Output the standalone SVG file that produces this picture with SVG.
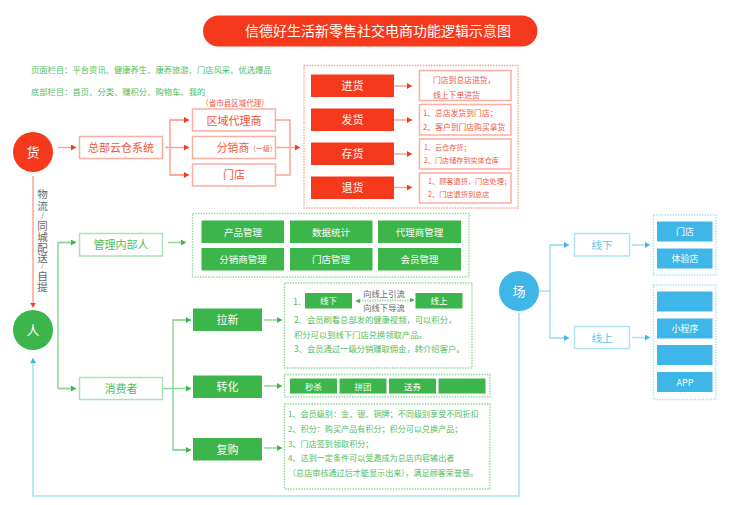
<svg xmlns="http://www.w3.org/2000/svg" width="741" height="505" viewBox="0 0 741 505">
<style>
text{font-family:"Noto Sans CJK SC","Noto Sans",sans-serif;}
.c{text-anchor:middle}
.w{fill:#fff}
.r{fill:#f5391c}
.g{fill:#3cb54a}
.b{fill:#3eb6e8}
.ro{fill:#fff;stroke:#fbaea2;stroke-width:1.5}
.go{fill:#fff;stroke:#aee2b5;stroke-width:1.5}
.bo{fill:#fff;stroke:#aee2f6;stroke-width:1.5}
.rd{fill:none;stroke:#fba496;stroke-width:1.4;stroke-dasharray:1.5 1.2}
.gd{fill:none;stroke:#93da9c;stroke-width:1.4;stroke-dasharray:1.5 1.2}
.bd{fill:none;stroke:#a9e0f6;stroke-width:1.4;stroke-dasharray:1.5 1.2}
.rt{fill:#f0553c}
.gt{fill:#50bd5d}
.bt{fill:#5cc3ea}
.rl{fill:none;stroke:#fba496;stroke-width:1.5}
.gl{fill:none;stroke:#8ed796;stroke-width:1.5}
.bl{fill:none;stroke:#a9e0f6;stroke-width:1.6}
.ra{marker-end:url(#mr)}
.ga{marker-end:url(#mg)}
.ba{marker-end:url(#mb)}
</style>
<defs>
<marker id="mr" markerUnits="userSpaceOnUse" markerWidth="6" markerHeight="7" refX="5" refY="3" orient="auto"><path d="M0 0L5 3L0 6Z" fill="#f5391c"/></marker>
<marker id="mg" markerUnits="userSpaceOnUse" markerWidth="6" markerHeight="7" refX="5" refY="3" orient="auto"><path d="M0 0L5 3L0 6Z" fill="#3cb54a"/></marker>
<marker id="mb" markerUnits="userSpaceOnUse" markerWidth="6" markerHeight="7" refX="5" refY="3" orient="auto"><path d="M0 0L5 3L0 6Z" fill="#3eb6e8"/></marker>
</defs>

<rect width="741" height="505" fill="#fff"/>

<g id="connectors">
<path class="rl ra" d="M58 147.500H76"/>
<path class="rl" d="M165 147.500H170M189 120H170V175H189"/>
<path class="rl ra" d="M170 147.500H189"/>
<path class="rl ra" d="M170 120H189"/>
<path class="rl ra" d="M170 175H189"/>
<path class="rl" d="M275 120H290V175H275"/>
<path class="rl ra" d="M275 147.500H300"/>
<path class="rl ra" d="M394 86H412"/>
<path class="rl ra" d="M394 120H412"/>
<path class="rl ra" d="M394 154H412"/>
<path class="rl ra" d="M394 187.500H412"/>
<path class="rl ra" d="M33 176V307.500"/>

<path class="gl" d="M76 242.500H58V388.500H76"/>
<path class="gl ga" d="M58 242.500H76"/>
<path class="gl ga" d="M58 388.500H76"/>
<path class="gl ga" d="M168 242.500H186"/>
<path class="gl" d="M162 388.500H173M191 320H173V450H191"/>
<path class="gl ga" d="M173 320H191"/>
<path class="gl ga" d="M173 388.500H191"/>
<path class="gl ga" d="M173 450H191"/>
<path class="gl ga" d="M264 320H282"/>
<path class="gl ga" d="M264 386H282"/>
<path class="gl ga" d="M264 448H282"/>

<path class="bl" d="M539 291H550M568 245H550V338H568"/>
<path class="bl ba" d="M550 245H569"/>
<path class="bl ba" d="M550 338H569"/>
<path class="bl ba" d="M632 245H650"/>
<path class="bl ba" d="M632 337.500H650"/>
<path class="bl ba" d="M519 313V496H33V358"/>
</g>

<g id="title">
<rect class="r" x="203" y="15.500" width="334.500" height="31" rx="15.500"/>
<text class="w c" x="378" y="36" font-size="14">信德好生活新零售社交电商功能逻辑示意图</text>
</g>

<g id="notes">
<text class="gt" x="31" y="72.500" font-size="8.300">页面栏目：平台资讯、健康养生、康养旅游、门店风采、优选爆品</text>
<text class="gt" x="31" y="94.500" font-size="8.300">底部栏目：首页、分类、赚积分、购物车、我的</text>
</g>

<g id="node-huo"><circle class="r" cx="33" cy="152" r="20"/><text class="w c" x="33" y="157" font-size="13">货</text></g>
<g id="node-ren"><circle class="g" cx="33" cy="330" r="20"/><text class="w c" x="33" y="335" font-size="13">人</text></g>
<g id="node-chang"><circle class="b" cx="519" cy="291" r="20"/><text class="w c" x="519" y="296" font-size="13">场</text></g>

<g id="label-logistics">
<text class="c" fill="#666" font-size="10.500" x="42.500 42.500 42.500 42.500 42.500 42.500 42.500 42.500 42.500 42.500" y="198 209.500 217.500 229.500 240.500 251.500 262 267.500 279.500 290.500">物流<tspan font-size="7">/</tspan>同城配送<tspan font-size="6">/</tspan>自提</text>
</g>

<g id="node-cloud"><rect class="ro" x="79.500" y="136.500" width="83" height="22"/><text class="rt c" x="121" y="151.500" font-size="11">总部云仓系统</text></g>
<g id="node-region">
<text class="rt c" x="235" y="105.500" font-size="7.500">（省市县区域代理）</text>
<rect class="ro" x="192.500" y="109" width="83" height="22"/><text class="rt c" x="234" y="124.500" font-size="11">区域代理商</text></g>
<g id="node-dist"><rect class="ro" x="192.500" y="136.500" width="83" height="22"/><text class="rt c" x="233" y="152" font-size="10.800">分销商</text><text class="rt c" x="263" y="151" font-size="7">（一级）</text></g>
<g id="node-store"><rect class="ro" x="192.500" y="164" width="83" height="22"/><text class="rt c" x="234" y="179" font-size="11">门店</text></g>

<g id="panel-goods">
<rect class="rd" x="304" y="65.500" width="214" height="142.500"/>
<rect class="r" x="311" y="74.500" width="83" height="22.500"/><text class="w c" x="352.500" y="90" font-size="11">进货</text>
<rect class="r" x="311" y="108.500" width="83" height="22.500"/><text class="w c" x="352.500" y="124" font-size="11">发货</text>
<rect class="r" x="311" y="142.500" width="83" height="22.500"/><text class="w c" x="352.500" y="158" font-size="11">存货</text>
<rect class="r" x="311" y="176.500" width="83" height="22.500"/><text class="w c" x="352.500" y="192" font-size="11">退货</text>
<rect class="ro" x="419.500" y="70.500" width="91.500" height="30"/>
<text class="rt" x="433" y="83" font-size="7.800">门店到总店进货，</text><text class="rt" x="433" y="98" font-size="7.800">线上下单进货</text>
<rect class="ro" x="419.500" y="104.500" width="91.500" height="30.500"/>
<text class="rt" x="423" y="115.500" font-size="7.800">1、总店发货到门店；</text><text class="rt" x="423" y="130" font-size="7.800">2、客户到门店购买拿货</text>
<rect class="ro" x="419.500" y="139" width="91.500" height="30"/>
<text class="rt" x="424" y="150" font-size="7.100">1、云仓存货；</text><text class="rt" x="424" y="163" font-size="7.100">2、门店储存到实体仓库</text>
<rect class="ro" x="419.500" y="173" width="91.500" height="30"/>
<text class="rt" x="428" y="184" font-size="7.200">1、顾客退货，门店处理；</text><text class="rt" x="428" y="197" font-size="7.200">2、门店退货到总店</text>
</g>

<g id="node-staff"><rect class="go" x="79.500" y="233.500" width="83" height="22.500"/><text class="gt c" x="121" y="249" font-size="11">管理内部人</text></g>
<g id="node-consumer"><rect class="go" x="79.500" y="377.500" width="83" height="22"/><text class="gt c" x="121" y="393" font-size="11">消费者</text></g>

<g id="panel-manage">
<rect class="gd" x="192.500" y="213.500" width="276.500" height="63.500"/>
<rect class="g" x="201.500" y="220.500" width="82.500" height="22.500"/><text class="w c" x="243" y="235.500" font-size="9.500">产品管理</text>
<rect class="g" x="290" y="220.500" width="82.500" height="22.500"/><text class="w c" x="331" y="235.500" font-size="9.500">数据统计</text>
<rect class="g" x="378" y="220.500" width="83" height="22.500"/><text class="w c" x="419.500" y="235.500" font-size="9.500">代理商管理</text>
<rect class="g" x="201.500" y="248" width="82.500" height="22.500"/><text class="w c" x="243" y="263" font-size="9.500">分销商管理</text>
<rect class="g" x="290" y="248" width="82.500" height="22.500"/><text class="w c" x="331" y="263" font-size="9.500">门店管理</text>
<rect class="g" x="378" y="248" width="83" height="22.500"/><text class="w c" x="419.500" y="263" font-size="9.500">会员管理</text>
</g>

<g id="node-laxin"><rect class="g" x="193" y="308.500" width="69" height="22.500"/><text class="w c" x="227.500" y="324" font-size="11">拉新</text></g>
<g id="node-zhuanhua"><rect class="g" x="193" y="375.500" width="69" height="22.500"/><text class="w c" x="227.500" y="391" font-size="11">转化</text></g>
<g id="node-fugou"><rect class="g" x="193" y="438" width="69" height="22.500"/><text class="w c" x="227.500" y="453.500" font-size="11">复购</text></g>

<g id="panel-laxin">
<rect class="gd" x="284.500" y="283" width="187.500" height="85"/>
<text class="gt" x="293" y="304.500" font-size="9">1.</text>
<rect class="g" x="305" y="293" width="47" height="15.500"/><text class="w c" x="328.500" y="304" font-size="8.500">线下</text>
<rect class="g" x="415.500" y="293" width="47" height="15.500"/><text class="w c" x="439" y="304" font-size="8.500">线上</text>
<text class="c" x="384" y="296.500" font-size="8.300" fill="#666">向线上引流</text>
<text class="c" x="384" y="310.500" font-size="8.300" fill="#666">向线下导流</text>
<path d="M357 300.500H413" fill="none" stroke="#a5e0ad" stroke-width="2" stroke-dasharray="1.500 1"/>
<path d="M355 301L360 299V303ZM415 300L410 298V302Z" fill="#3cb54a"/>
<text class="gt" x="294" y="323" font-size="8.300">2、会员刷看总部发的健康视频，可以积分，</text>
<text class="gt" x="294" y="338" font-size="8.300">积分可以到线下门店兑换领取产品。</text>
<text class="gt" x="294" y="352" font-size="8.300">3、会员通过一级分销赚取佣金，转介绍客户。</text>
</g>

<g id="panel-zhuanhua">
<rect class="gd" x="284.500" y="374.500" width="205.500" height="22.500"/>
<rect class="g" x="290" y="378.500" width="47" height="15"/><text class="w c" x="313.500" y="389.500" font-size="8.500">秒杀</text>
<rect class="g" x="339.500" y="378.500" width="47" height="15"/><text class="w c" x="363" y="389.500" font-size="8.500">拼团</text>
<rect class="g" x="389" y="378.500" width="47" height="15"/><text class="w c" x="412.500" y="389.500" font-size="8.500">送券</text>
<rect class="g" x="438.500" y="378.500" width="47" height="15"/>
</g>

<g id="panel-fugou">
<rect class="gd" x="284.500" y="404" width="205.500" height="85"/>
<text class="gt" x="288" y="417" font-size="8.100">1、会员级别：金、银、铜牌；不同级别享受不同折扣</text>
<text class="gt" x="288" y="432" font-size="8.100">2、积分：购买产品有积分；积分可以兑换产品；</text>
<text class="gt" x="288" y="446.500" font-size="8.100">3、门店签到领取积分；</text>
<text class="gt" x="288" y="461" font-size="8.100">4、达到一定条件可以受邀成为总店内容输出者</text>
<text class="gt" x="288" y="476" font-size="8.100">（总店审核通过后才能显示出来），满足顾客荣誉感。</text>
</g>

<g id="node-offline"><rect class="bo" x="574.500" y="233.500" width="55" height="22.500"/><text class="bt c" x="602" y="249" font-size="10.500">线下</text></g>
<g id="node-online"><rect class="bo" x="574.500" y="326.500" width="55" height="22"/><text class="bt c" x="602" y="342" font-size="10.500">线上</text></g>

<g id="panel-offline">
<rect class="bd" x="653.500" y="215" width="62.500" height="60"/>
<rect class="b" x="657" y="221.500" width="55.500" height="20"/><text class="w c" x="685" y="235" font-size="9">门店</text>
<rect class="b" x="657" y="248.500" width="55.500" height="20"/><text class="w c" x="685" y="262" font-size="9">体验店</text>
</g>
<g id="panel-online">
<rect class="bd" x="653.500" y="285" width="62.500" height="114.500"/>
<rect class="b" x="657" y="291.500" width="55.500" height="20"/>
<rect class="b" x="657" y="318.500" width="55.500" height="20"/><text class="w c" x="685" y="332" font-size="9">小程序</text>
<rect class="b" x="657" y="345" width="55.500" height="20"/>
<rect class="b" x="657" y="372" width="55.500" height="20"/><text class="w c" x="685" y="385.500" font-size="9">APP</text>
</g>
</svg>
